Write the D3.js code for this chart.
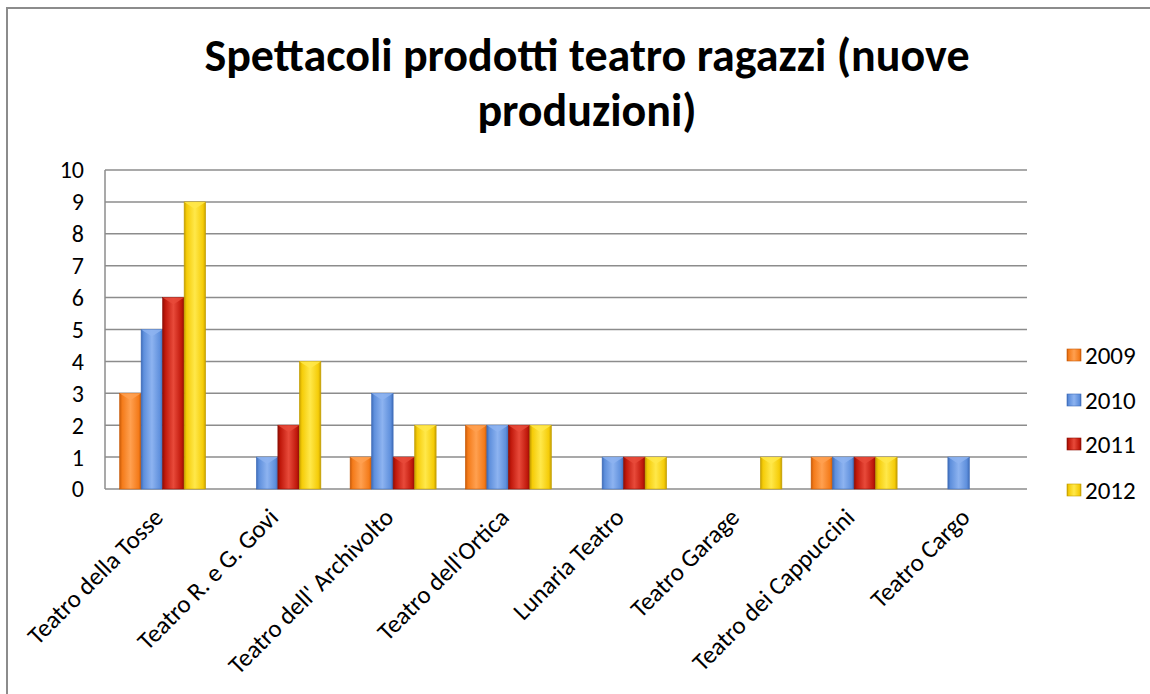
<!DOCTYPE html>
<html>
<head>
<meta charset="utf-8">
<script src="https://cdn.jsdelivr.net/npm/d3@7"></script>
<style>
  body { margin: 0; background: #fff; }
  svg { display: block; font-family: Calibri, Carlito, "Open Sans", sans-serif; }
</style>
</head>
<body>
<svg id="chart" width="1150" height="694"></svg>
<script>
const categories = [
  "Teatro della Tosse", "Teatro R. e G. Govi", "Teatro dell' Archivolto", "Teatro dell'Ortica",
  "Lunaria Teatro", "Teatro Garage", "Teatro dei Cappuccini", "Teatro Cargo"
];
const years = ["2009", "2010", "2011", "2012"];
const values2009 = [3, 0, 1, 2, 0, 0, 1, 0];
const values2010 = [5, 1, 3, 2, 1, 0, 1, 1];
const values2011 = [6, 2, 1, 2, 1, 0, 1, 0];
const values2012 = [9, 4, 2, 2, 1, 1, 1, 0];
const yTicks = [0, 1, 2, 3, 4, 5, 6, 7, 8, 9, 10];

const seriesValues = [values2009, values2010, values2011, values2012];
const colors = [
  { base: "#F47B1A", light: "#FFA050", dark: "#C85A08" },
  { base: "#5E8FDC", light: "#8DB3F0", dark: "#3E6CB8" },
  { base: "#C0180B", light: "#E84A3A", dark: "#8E0E05" },
  { base: "#F5CC08", light: "#FFE84A", dark: "#C49E00" }
];

const svg = d3.select("#chart");
const defs = svg.append("defs");

colors.forEach((c, i) => {
  const g = defs.append("linearGradient").attr("id", "grad" + i)
    .attr("x1", "0").attr("x2", "1").attr("y1", "0").attr("y2", "0");
  g.append("stop").attr("offset", "0%").attr("stop-color", c.dark);
  g.append("stop").attr("offset", "12%").attr("stop-color", c.base);
  g.append("stop").attr("offset", "50%").attr("stop-color", c.light);
  g.append("stop").attr("offset", "88%").attr("stop-color", c.base);
  g.append("stop").attr("offset", "100%").attr("stop-color", c.dark);
});

// chart frame (only top and left edges show)
svg.append("path")
  .attr("d", "M7,694 L7,8 L1150,8")
  .attr("fill", "none").attr("stroke", "#8c8c8c").attr("stroke-width", 2);

// title
const title = svg.append("text")
  .attr("x", 587).attr("text-anchor", "middle")
  .attr("font-size", 46).attr("font-weight", "bold").attr("fill", "#000");
title.append("tspan").attr("x", 587).attr("y", 71).text("Spettacoli prodotti teatro ragazzi (nuove");
title.append("tspan").attr("x", 587).attr("y", 126).text("produzioni)");

const plotL = 105, plotR = 1027, plotT = 170, plotB = 489;

const x = d3.scaleBand().domain(categories).range([plotL, plotR]);
const y = d3.scaleLinear().domain([0, 10]).range([plotB, plotT]);
const barW = 21.5;
const groupW = barW * years.length;

// gridlines
svg.append("g").selectAll("line").data(yTicks).enter().append("line")
  .attr("x1", plotL).attr("x2", plotR)
  .attr("y1", d => y(d)).attr("y2", d => y(d))
  .attr("stroke", "#8c8c8c").attr("stroke-width", 1.5);

// y axis
svg.append("line").attr("x1", plotL).attr("x2", plotL).attr("y1", plotT).attr("y2", plotB)
  .attr("stroke", "#8c8c8c").attr("stroke-width", 1.5);
svg.append("g").selectAll("text").data(yTicks).enter().append("text")
  .attr("x", 84).attr("y", d => y(d)).attr("dy", "0.35em")
  .attr("text-anchor", "end").attr("font-size", 24).attr("fill", "#000")
  .text(d => d);

// bars
seriesValues.forEach((vals, si) => {
  const g = svg.append("g");
  const data = vals.map((v, i) => ({ cat: categories[i], v })).filter(d => d.v > 0);
  const xs = d => x(d.cat) + (x.bandwidth() - groupW) / 2 + si * barW;
  g.selectAll("rect").data(data).enter().append("rect")
    .attr("x", xs).attr("y", d => y(d.v))
    .attr("width", barW).attr("height", d => y(0) - y(d.v))
    .attr("fill", `url(#grad${si})`)
    .attr("stroke", colors[si].dark).attr("stroke-width", 0.6);
  // top bevel highlight
  g.selectAll("path").data(data).enter().append("path")
    .attr("d", d => {
      const x0 = xs(d), y0 = y(d.v);
      return `M${x0},${y0} L${x0 + barW},${y0} L${x0 + barW / 2},${y0 + 7} Z`;
    })
    .attr("fill", colors[si].light).attr("opacity", 0.85);
});

// category labels
svg.append("g").selectAll("text").data(categories).enter().append("text")
  .attr("transform", d => `translate(${x(d) + x.bandwidth() / 2 + 2},${plotB + 30}) rotate(-45)`)
  .attr("text-anchor", "end").attr("font-size", 25).attr("fill", "#000")
  .text(d => d);

// legend
const legendY = [355, 400, 444, 490];
const lg = svg.append("g").selectAll("g").data(years).enter().append("g")
  .attr("transform", (d, i) => `translate(1067,${legendY[i]})`);
lg.append("rect").attr("x", 0).attr("y", -6).attr("width", 14).attr("height", 12)
  .attr("fill", (d, i) => `url(#grad${i})`).attr("stroke", (d, i) => colors[i].dark).attr("stroke-width", 0.6);
lg.append("text").attr("x", 18).attr("dy", "0.35em")
  .attr("font-size", 25).attr("fill", "#000").text(d => d);
</script>
</body>
</html>
